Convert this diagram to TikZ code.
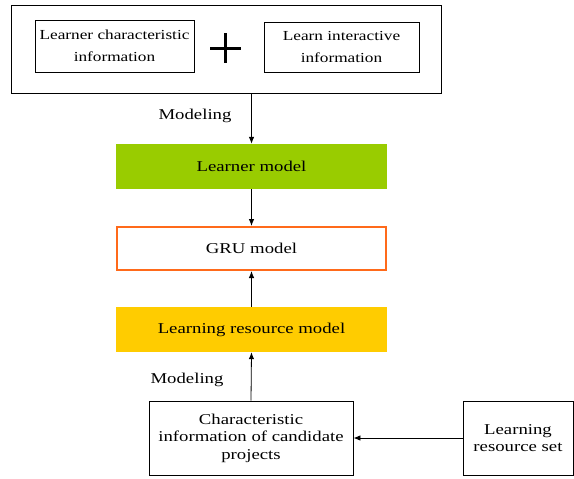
\documentclass[tikz,border=0pt]{standalone}
\usepackage{fontspec}
\setmainfont{Liberation Serif}[FakeStretch=1.25]
\usetikzlibrary{arrows.meta}
\definecolor{lmgreen}{HTML}{99CC00}
\definecolor{lrmyellow}{HTML}{FFCC00}
\definecolor{gruorange}{HTML}{FF6A1A}
\tikzset{
  plainbox/.style={draw=black, line width=0.9pt, inner sep=0pt, align=center},
  fillbox/.style={draw=none, inner sep=0pt, align=center, minimum width=271pt, minimum height=45pt, font=\fontsize{15}{17.5}\selectfont},
  arr/.style={-{Latex[length=7pt,width=5.5pt]}, line width=0.8pt},
  lbl/.style={inner sep=0pt, font=\fontsize{15}{17.5}\selectfont}
}
\begin{document}
\begin{tikzpicture}[x=1pt,y=-1pt]
\useasboundingbox (0,0) rectangle (574,479);
% top group
\node[plainbox, minimum width=430pt, minimum height=88pt] (outer) at (226,49) {};
\node[plainbox, minimum width=159pt, minimum height=52pt, font=\fontsize{13.8}{21.5}\selectfont] (lci) at (114.5,46) {Learner characteristic\\information};
\node[plainbox, minimum width=155pt, minimum height=50pt, font=\fontsize{13.8}{21.5}\selectfont] (lii) at (341.5,47) {Learn interactive\\information};
\coordinate (plusc) at (225.5,48);
\draw[line width=3pt] ([xshift=-15.5pt]plusc) -- ([xshift=15.5pt]plusc);
\draw[line width=3pt] ([yshift=15pt]plusc) -- ([yshift=-15pt]plusc);
% models
\node[fillbox, fill=lmgreen] (lm) at (251.5,166.5) {Learner model};
\node[fillbox, draw=gruorange, line width=2pt, minimum width=269pt, minimum height=43pt] (gru) at (251.5,248.5) {GRU model};
\node[fillbox, fill=lrmyellow] (lrm) at (251.5,329.5) {Learning resource model};
% bottom
\node[plainbox, minimum width=204pt, minimum height=74pt, font=\fontsize{15}{17.5}\selectfont] (cand) at (251,438) {Characteristic\\information of candidate\\projects};
\node[plainbox, minimum width=110pt, minimum height=74pt, font=\fontsize{15}{17.5}\selectfont] (lrs) at (518,438) {Learning\\resource set};
% labels
\node[lbl] (mod1) at (195,116) {Modeling};
\node[lbl] (mod2) at (187,380) {Modeling};
% connectors
\draw[arr] (lm.north |- outer.south) -- (lm.north);
\draw[arr] (lm.south) -- (gru.north);
\draw[arr] (lrm.north) -- (gru.south);
\draw[arr] (cand.north) -- (lrm.south);
\draw[arr] (lrs.west) -- (cand.east);
\end{tikzpicture}
\end{document}
